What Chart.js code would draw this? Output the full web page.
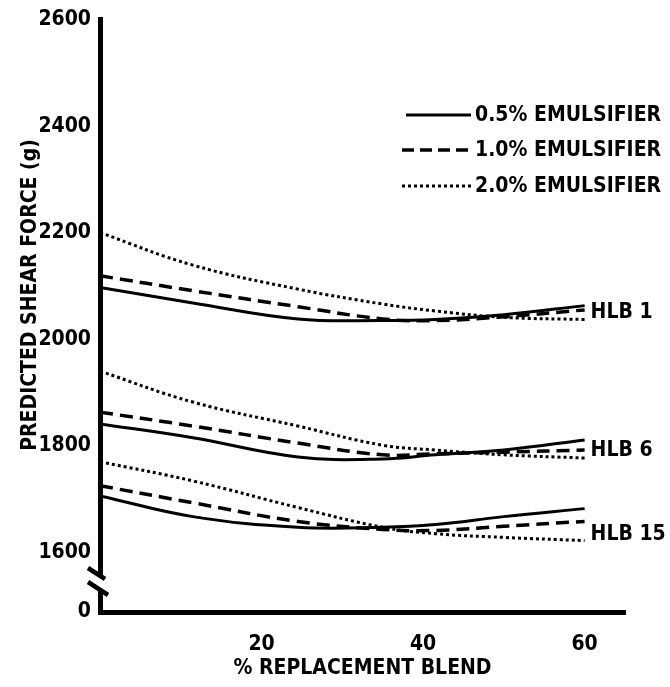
<!DOCTYPE html>
<html>
<head>
<meta charset="utf-8">
<script src="https://cdn.jsdelivr.net/npm/chart.js@4.4.1/dist/chart.umd.min.js"></script>
<style>
  body { margin: 0; background: #fff; }
  canvas { display: block; }
</style>
</head>
<body>
<canvas id="shearChart" width="670" height="687"></canvas>
<script>
// % replacement blend (x) and predicted shear force in g (y)
const replacementBlend = [0, 11.5, 24.5, 35, 41.5, 50, 60];

const hlb1Emul05 = [2097, 2068, 2038, 2035, 2037, 2046, 2063];
const hlb1Emul10 = [2119, 2091, 2061, 2038, 2035, 2042, 2055];
const hlb1Emul20 = [2200, 2139, 2094, 2066, 2053, 2041, 2037];

const hlb6Emul05 = [1841, 1815, 1779, 1775, 1783, 1792, 1811];
const hlb6Emul10 = [1863, 1837, 1805, 1783, 1785, 1788, 1792];
const hlb6Emul20 = [1940, 1882, 1837, 1801, 1792, 1783, 1777];

const hlb15Emul05 = [1706, 1667, 1647, 1647, 1652, 1667, 1682];
const hlb15Emul10 = [1725, 1693, 1658, 1643, 1641, 1649, 1658];
const hlb15Emul20 = [1770, 1734, 1684, 1647, 1635, 1628, 1622];

const emulsifierLabels = ['0.5% EMULSIFIER', '1.0% EMULSIFIER', '2.0% EMULSIFIER'];
const hlbLabels = ['HLB 1', 'HLB 6', 'HLB 15'];

const xTickValues = [20, 40, 60];
const yTickValues = [1600, 1800, 2000, 2200, 2400, 2600];
const yBreakValue = 1488; // bottom of the broken axis, shown as 0

const groups = [
  [hlb1Emul05, hlb1Emul10, hlb1Emul20],
  [hlb6Emul05, hlb6Emul10, hlb6Emul20],
  [hlb15Emul05, hlb15Emul10, hlb15Emul20],
];

const FONT = "'DejaVu Sans Condensed', 'DejaVu Sans', sans-serif";
const FONT_SIZE = 21;
const lineStyles = [
  { dash: [], width: 3 },
  { dash: [13, 7], width: 3.5 },
  { dash: [3, 3], width: 3 },
];

const datasets = [];
groups.forEach((group, g) => {
  group.forEach((values, e) => {
    datasets.push({
      label: `${hlbLabels[g]} ${emulsifierLabels[e]}`,
      data: values.map((v, i) => ({ x: replacementBlend[i], y: v })),
      borderColor: '#000',
      borderWidth: lineStyles[e].width,
      borderDash: lineStyles[e].dash,
      borderCapStyle: 'butt',
      pointRadius: 0,
      tension: 0.4,
      fill: false,
    });
  });
});

const decorations = {
  id: 'decorations',
  afterDraw(chart) {
    const { ctx, scales } = chart;
    const x = scales.x;
    const y = scales.y;
    ctx.save();

    // axis break on the y axis
    const ax = chart.chartArea.left;
    ctx.fillStyle = '#fff';
    ctx.fillRect(ax - 4, 576, 8, 15);
    ctx.strokeStyle = '#000';
    ctx.lineWidth = 4.5;
    ctx.setLineDash([]);
    ctx.beginPath();
    ctx.moveTo(ax - 12, 568);
    ctx.lineTo(ax + 5, 579);
    ctx.moveTo(ax - 12, 582);
    ctx.lineTo(ax + 8, 595);
    ctx.stroke();

    ctx.font = `bold ${FONT_SIZE}px ${FONT}`;
    ctx.fillStyle = '#000';
    ctx.textBaseline = 'middle';

    // y axis title
    ctx.save();
    ctx.translate(30, 295);
    ctx.rotate(-Math.PI / 2);
    ctx.textAlign = 'center';
    ctx.fillText('PREDICTED SHEAR FORCE (g)', 0, 1);
    ctx.restore();

    // legend
    ctx.textAlign = 'left';
    const rows = [115, 150, 186];
    emulsifierLabels.forEach((text, i) => {
      ctx.lineWidth = lineStyles[i].width;
      ctx.setLineDash(i === 1 ? [12, 6] : lineStyles[i].dash);
      ctx.beginPath();
      ctx.moveTo(i === 0 ? 406 : 402, rows[i]);
      ctx.lineTo(471, rows[i]);
      ctx.stroke();
      ctx.fillText(text, 475, rows[i] + 1);
    });

    // group labels at the right end of each curve family
    ctx.setLineDash([]);
    const labelOffsets = [0, 0, 10];
    groups.forEach((group, g) => {
      const last = group.map((s) => s[s.length - 1]);
      const mean = last.reduce((a, b) => a + b, 0) / last.length;
      ctx.fillText(
        hlbLabels[g],
        x.getPixelForValue(replacementBlend[replacementBlend.length - 1]) + 6,
        y.getPixelForValue(mean) + labelOffsets[g] + 1,
      );
    });
    ctx.restore();
  },
};

new Chart(document.getElementById('shearChart'), {
  type: 'line',
  data: { datasets },
  options: {
    responsive: false,
    animation: false,
    layout: { padding: { top: 16, right: 45, bottom: 0, left: 0 } },
    plugins: {
      legend: { display: false },
      tooltip: { enabled: false },
    },
    scales: {
      x: {
        type: 'linear',
        min: 0,
        max: 65,
        afterBuildTicks: (scale) => {
          scale.ticks = xTickValues.map((v) => ({ value: v }));
        },
        afterFit: (scale) => {
          scale.height = 75;
        },
        grid: { display: false, drawTicks: false },
        border: { display: true, color: '#000', width: 5 },
        ticks: {
          padding: 20,
          color: '#000',
          maxRotation: 0,
          font: { family: FONT, size: FONT_SIZE, weight: 'bold' },
        },
        title: {
          display: true,
          text: '% REPLACEMENT BLEND',
          color: '#000',
          padding: { top: 0, bottom: 6 },
          font: { family: FONT, size: FONT_SIZE, weight: 'bold' },
        },
      },
      y: {
        type: 'linear',
        min: yBreakValue,
        max: 2600,
        afterBuildTicks: (scale) => {
          scale.ticks = [yBreakValue, ...yTickValues].map((v) => ({ value: v }));
        },
        afterFit: (scale) => {
          scale.width = 100;
        },
        grid: { display: false, drawTicks: false },
        border: { display: true, color: '#000', width: 5 },
        ticks: {
          padding: 9,
          color: '#000',
          font: { family: FONT, size: FONT_SIZE, weight: 'bold', lineHeight: 1 },
          callback: (value) => (value === yBreakValue ? '0' : String(value)),
        },
      },
    },
  },
  plugins: [decorations],
});
</script>
</body>
</html>
